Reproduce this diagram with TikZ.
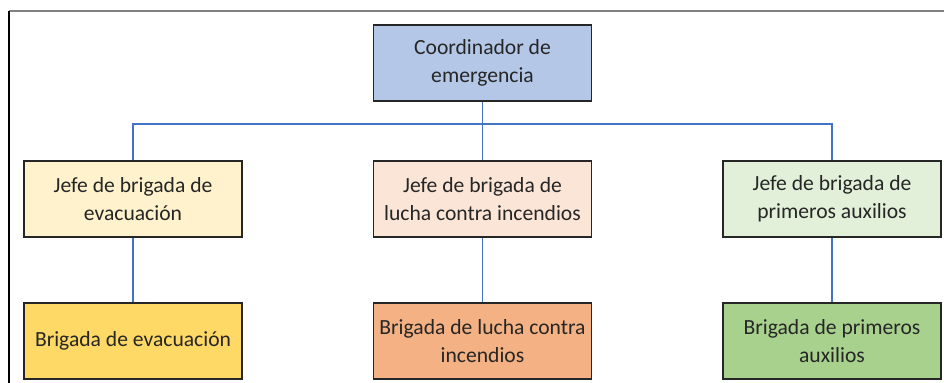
\documentclass[tikz,border=0pt]{standalone}
\usepackage{fontspec}
\setmainfont{Carlito}
\usepackage{tikz}
\usetikzlibrary{positioning}

\definecolor{linkblue}{HTML}{4472C4}
\definecolor{txtgray}{HTML}{262626}
\definecolor{coordfill}{HTML}{B4C7E7}
\definecolor{evacfill}{HTML}{FFF2CC}
\definecolor{luchafill}{HTML}{FBE5D6}
\definecolor{auxfill}{HTML}{E2F0D9}
\definecolor{evacdark}{HTML}{FFD966}
\definecolor{luchadark}{HTML}{F4B183}
\definecolor{auxdark}{HTML}{A9D18E}

\tikzset{
  box/.style={draw=black!85, line width=0.9pt, minimum width=109pt, minimum height=38pt,
    inner sep=0pt, align=center, text=txtgray,
    font=\fontsize{10.8pt}{14pt}\selectfont},
  link/.style={draw=linkblue, line width=0.55pt}
}

\begin{document}
\begin{tikzpicture}[x=0.5pt,y=-0.5pt]
\useasboundingbox (0,0) rectangle (944,383);
\color{black}
% frame
\draw [draw=gray, line width=1.1pt] (9,11) -- (944,11);
\draw [draw=black, line width=0.8pt] (9,11) -- (9,383);

\node[box, fill=coordfill] (coord) at (482.5,63) {Coordinador de\\emergencia};

\node[box, fill=evacfill] (jefeE) at (133,199) {Jefe de brigada de\\evacuación};
\node[box, fill=luchafill] (jefeL) at (482.5,199) {Jefe de brigada de\\lucha contra incendios};
\node[box, fill=auxfill] (jefeP) at (832,199) {Jefe de brigada de\\primeros auxilios};

\node[box, fill=evacdark] (brigE) at (133,341) {Brigada de evacuación};
\node[box, fill=luchadark] (brigL) at (482.5,341) {Brigada de lucha contra\\incendios};
\node[box, fill=auxdark] (brigP) at (832,341) {Brigada de primeros\\auxilios};

\coordinate (bus) at (482.5,124);

\draw [link] (coord.south) -- (jefeL.north);
\draw [link] (jefeE.north) |- (bus) -| (jefeP.north);

\draw [link] (jefeE.south) -- (brigE.north);
\draw [link] (jefeL.south) -- (brigL.north);
\draw [link] (jefeP.south) -- (brigP.north);
\end{tikzpicture}
\end{document}
